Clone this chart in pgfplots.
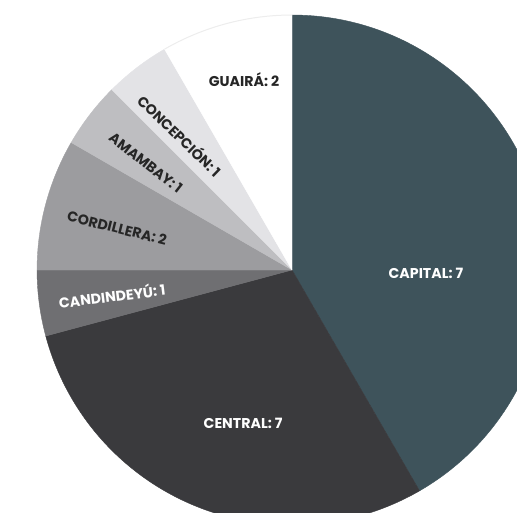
\documentclass[border=0pt]{standalone}
\usepackage{pgfplots}
\pgfplotsset{compat=1.18}
\usepackage{pgfplotstable}
\usepackage{fontspec}
\setmainfont{Poppins}

% slice colours, clockwise from the top
\definecolor{slice0}{HTML}{3E535B}
\definecolor{slice1}{HTML}{3A3A3D}
\definecolor{slice2}{HTML}{6F6F72}
\definecolor{slice3}{HTML}{9C9C9F}
\definecolor{slice4}{HTML}{BEBEC1}
\definecolor{slice5}{HTML}{E3E3E6}
\definecolor{slice6}{HTML}{FFFFFF}
\definecolor{darktext}{HTML}{262626}

% share = size of the drawn slice (15 degrees per unit), count = printed value
\pgfplotstableread{
name share count
Capital 10 7
Central 7 7
Candindeyu 1 1
Cordillera 2 2
Amambay 1 1
Concepcion 1 1
Guaira 2 2
}\piedata

\begin{document}
\begin{tikzpicture}
\begin{axis}[
    scale only axis,
    width=517pt, height=513pt,
    xmin=-1.145, xmax=0.882,
    ymin=-0.953, ymax=1.059,
    hide axis,
    clip=true,
]
\pgfmathsetmacro\angstart{90}
\pgfplotsforeachungrouped \i in {0,...,6}{
    \pgfplotstablegetelem{\i}{share}\of\piedata
    \pgfmathsetmacro\angend{\angstart-\pgfplotsretval*15}
    \edef\temp{\noexpand\fill[slice\i, draw=slice\i, line width=0.4pt, line join=round]
        (axis cs:0,0) -- ++(\angstart:255pt)
        arc[start angle=\angstart, end angle=\angend, radius=255pt] -- cycle;}
    \temp
    \global\let\angstart\angend
}
% faint rim on the white slice, as in the reference
\draw[black!7, line width=1pt] (axis cs:0,0) ++(120:255pt) arc[start angle=120, end angle=90, radius=255pt];

\begin{scope}[font=\fontsize{14.2}{16}\selectfont\bfseries]
\node[white] at (axis cs:0.525,-0.012) {CAPITAL: 7};
\node[white] at (axis cs:-0.192,-0.600) {CENTRAL: 7};
\node[white, rotate=7] at (axis cs:-0.706,-0.098) {CANDINDEYÚ: 1};
\node[darktext, rotate=-14] at (axis cs:-0.686,0.165) {CORDILLERA: 2};
\node[darktext, rotate=-38] at (axis cs:-0.573,0.420) {AMAMBAY: 1};
\node[darktext, rotate=-44] at (axis cs:-0.439,0.529) {CONCEPCIÓN: 1};
\node[darktext] at (axis cs:-0.188,0.745) {GUAIRÁ: 2};
\end{scope}
\end{axis}
\pgfresetboundingbox
\path (current axis.south west) rectangle (current axis.north east);
\end{tikzpicture}
\end{document}
